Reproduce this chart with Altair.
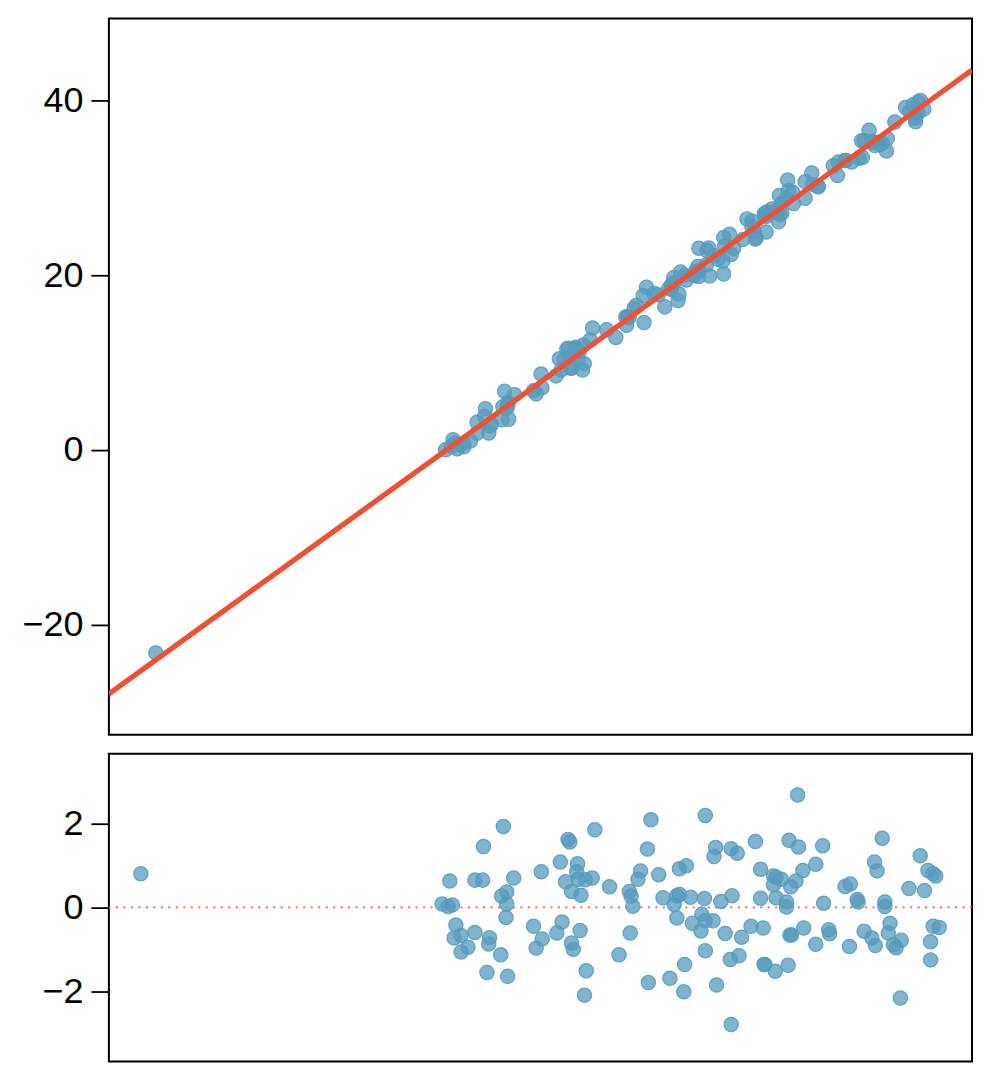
import altair as alt
import pandas as pd

# ---- data ----
x_vals = [
    3.7,
    45.7, 43.4, 39.5, 42.4, 43.3, 46.9, 50.1, 52.3, 53.2, 53.4,
    52.9, 53.6, 46.1, 45.5, 46.1, 38.6, 39.3, 39.8, 46.0, 40.2,
    40.0, 40.8, 42.4, 44.1, 44.0, 41.6, 40.8, 45.4, 43.8, 46.2,
    49.2, 50.2, 49.5, 51.9, 52.5, 53.6, 53.8,
    54.3, 54.2, 54.4, 55.2, 56.0, 54.7, 56.3, 58.0, 54.6, 55.3,
    55.1, 59.1, 60.4, 60.3, 60.5, 60.7, 61.6, 61.3, 62.4, 62.8,
    63.7, 62.5, 64.2, 65.0, 65.5, 65.8, 66.1, 66.1, 66.9, 65.8,
    66.7, 66.6, 67.4, 67.6, 68.6, 68.7, 69.0, 69.1, 69.1, 69.1,
    79.8, 70.3, 70.1, 72.1, 72.8, 74.9, 78.8, 79.9, 82.7, 81.9,
    75.5, 77.0, 77.3, 77.9, 77.0, 80.4, 79.6, 79.0, 70.9, 72.2,
    75.5, 77.3, 78.5, 78.5, 82.8, 70.0, 71.4, 73.3, 74.4, 75.8,
    78.9, 79.1, 80.5, 83.4, 83.5, 81.9, 72.0, 73.0, 75.9, 76.0,
    77.2, 78.7, 70.4, 72.1,
    89.6, 88.7, 89.0, 94.0, 94.9, 95.5, 95.8, 85.3, 85.9, 92.7,
    94.5, 86.7, 86.8, 89.9, 89.9, 85.8, 87.5, 88.4, 88.8, 90.5,
    90.3, 90.9, 91.2, 91.8, 91.7, 95.5, 96.2, 95.2, 95.2,
]

y_vals = [
    -23.21,
    6.72, 4.70, 1.16, 3.16, 3.82, 6.31, 8.68, 10.42, 11.54, 11.64,
    10.32, 10.59, 5.42, 4.95, 5.15, 0.03, 0.41, 0.80, 4.79, 0.64,
    0.14, 0.75, 1.91, 2.96, 2.73, 1.03, 0.36, 3.45, 1.94, 3.51,
    6.77, 7.10, 6.41, 8.47, 9.15, 9.36, 9.35,
    11.75, 11.52, 11.46, 11.99, 12.58, 11.27, 13.95, 13.75, 10.35, 9.87,
    9.13, 12.87, 14.26, 15.20, 15.22, 15.14, 16.56, 16.20, 17.64, 18.60,
    17.90, 14.56, 17.75, 16.36, 18.46, 18.89, 19.12, 19.73, 20.34, 18.36,
    17.83, 17.10, 19.96, 19.44, 19.95, 20.43, 20.99, 23.07, 19.82, 20.53,
    30.86, 23.08, 22.78, 24.30, 24.66, 26.42, 29.10, 29.66, 31.67, 30.68,
    26.19, 27.03, 27.21, 27.56, 26.79, 29.46, 28.71, 28.15, 22.24, 23.28,
    25.50, 26.72, 27.42, 27.30, 30.35, 21.15, 21.80, 23.06, 24.06, 24.95,
    26.89, 27.08, 28.17, 30.15, 30.10, 28.77, 21.60, 22.35, 24.12, 24.26,
    24.92, 26.09, 19.88, 20.11,
    36.56, 35.35, 35.36, 39.16, 39.47, 39.78, 39.95, 32.50, 32.93, 37.50,
    38.67, 33.09, 33.11, 35.28, 35.17, 31.38, 32.93, 33.36, 33.44, 35.17,
    34.80, 34.92, 35.06, 35.62, 34.18, 38.53, 38.98, 37.96, 37.53,
]

resid_vals = [
    0.80,
    1.93, 1.45, 0.63, 0.65, 0.65, 0.70, 0.85, 1.08, 1.62, 1.56,
    0.61, 0.38, 0.37, 0.27, 0.08, 0.08, 0.02, 0.06, -0.24, -0.42,
    -0.73, -0.67, -0.60, -0.72, -0.87, -0.95, -1.06, -1.13, -1.55, -1.64,
    -0.45, -0.75, -0.97, -0.61, -0.35, -0.85, -1.00,
    1.04, 0.85, 0.67, 0.66, 0.70, 0.29, 1.85, 0.49, -0.55, -1.51,
    -2.09, -1.13, -0.61, 0.38, 0.27, 0.03, 0.87, 0.67, 1.39, 2.09,
    0.78, -1.79, 0.23, -1.69, 0.07, 0.28, 0.31, 0.92, 0.99, -0.25,
    -1.36, -2.01, 0.24, -0.38, -0.56, -0.16, 0.21, 2.19, -1.03, -0.32,
    2.68, 1.43, 1.21, 1.40, 1.29, 1.57, 1.60, 1.44, 1.47, 1.03,
    0.91, 0.75, 0.72, 0.67, 0.54, 0.88, 0.63, 0.49, 0.14, 0.28,
    0.22, 0.23, 0.13, 0.01, 0.10, -0.32, -0.62, -0.71, -0.45, -0.49,
    -0.66, -0.66, -0.49, -0.53, -0.63, -0.88, -1.24, -1.15, -1.36, -1.36,
    -1.52, -1.38, -1.85, -2.79,
    1.65, 1.08, 0.87, 1.23, 0.88, 0.80, 0.75, 0.50, 0.56, 0.45,
    0.40, 0.19, 0.13, 0.13, 0.02, -0.93, -0.57, -0.73, -0.91, -0.38,
    -0.61, -0.89, -0.96, -0.78, -2.16, -0.45, -0.48, -0.82, -1.25,
]

# fitted line end points (read at the plot edges)
line_x = [-1.95, 102.0]
line_y = [-27.89, 43.43]

top_ticks = [-20, 0, 20, 40]
bottom_ticks = [-2, 0, 2]
zero_level = [0]

BLUE = "#569BBD"
RED = "#F05133"
FONT = "Liberation Sans"

df = pd.DataFrame({"x": x_vals, "y": y_vals, "resid": resid_vals})
line_df = pd.DataFrame({"x": line_x, "y": line_y})
zero_df = pd.DataFrame({"zero": zero_level})

top_xscale = alt.Scale(domain=[-1.95, 102.0], nice=False, zero=False)
top_yscale = alt.Scale(domain=[-32.57, 49.33], nice=False, zero=False)
bot_xscale = alt.Scale(domain=[0, 100], nice=False, zero=False)
bot_yscale = alt.Scale(domain=[-3.67, 3.66], nice=False, zero=False)

top_yaxis = alt.Axis(values=top_ticks, title=None, format="d")
bot_yaxis = alt.Axis(values=bottom_ticks, title=None, format="d")

pt_style = dict(size=205, fill=BLUE, fillOpacity=0.75, stroke=BLUE,
                strokeOpacity=0.9, strokeWidth=1.2)

top_pts = alt.Chart(df).mark_circle(**pt_style).encode(
    x=alt.X("x:Q", scale=top_xscale, axis=None),
    y=alt.Y("y:Q", scale=top_yscale, axis=top_yaxis),
)
top_line = alt.Chart(line_df).mark_line(color=RED, strokeWidth=5.2, clip=True).encode(
    x=alt.X("x:Q", scale=top_xscale, axis=None),
    y=alt.Y("y:Q", scale=top_yscale, axis=top_yaxis),
)
top = alt.layer(top_pts, top_line).properties(width=864, height=717)

zero_rule = alt.Chart(zero_df).mark_rule(
    color=RED, strokeWidth=1.8, strokeDash=[2, 5.5], opacity=0.9
).encode(y=alt.Y("zero:Q", scale=bot_yscale, axis=bot_yaxis))
bot_pts = alt.Chart(df).mark_circle(**pt_style).encode(
    x=alt.X("x:Q", scale=bot_xscale, axis=None),
    y=alt.Y("resid:Q", scale=bot_yscale, axis=bot_yaxis),
)
bottom = alt.layer(zero_rule, bot_pts).properties(width=864, height=308)

chart = (
    alt.vconcat(top, bottom, spacing=17)
    .properties(padding={"left": 12, "top": 9, "right": 8, "bottom": 4},
                background="white")
    .configure_view(stroke="black", strokeWidth=2)
    .configure_axis(
        domain=False, grid=False, ticks=True, tickColor="black",
        tickSize=18, tickWidth=1.8, labelFont=FONT, labelFontSize=36,
        labelColor="black", labelPadding=8,
    )
)

chart.save("out.html", embed_options={"renderer": "svg", "actions": False})
